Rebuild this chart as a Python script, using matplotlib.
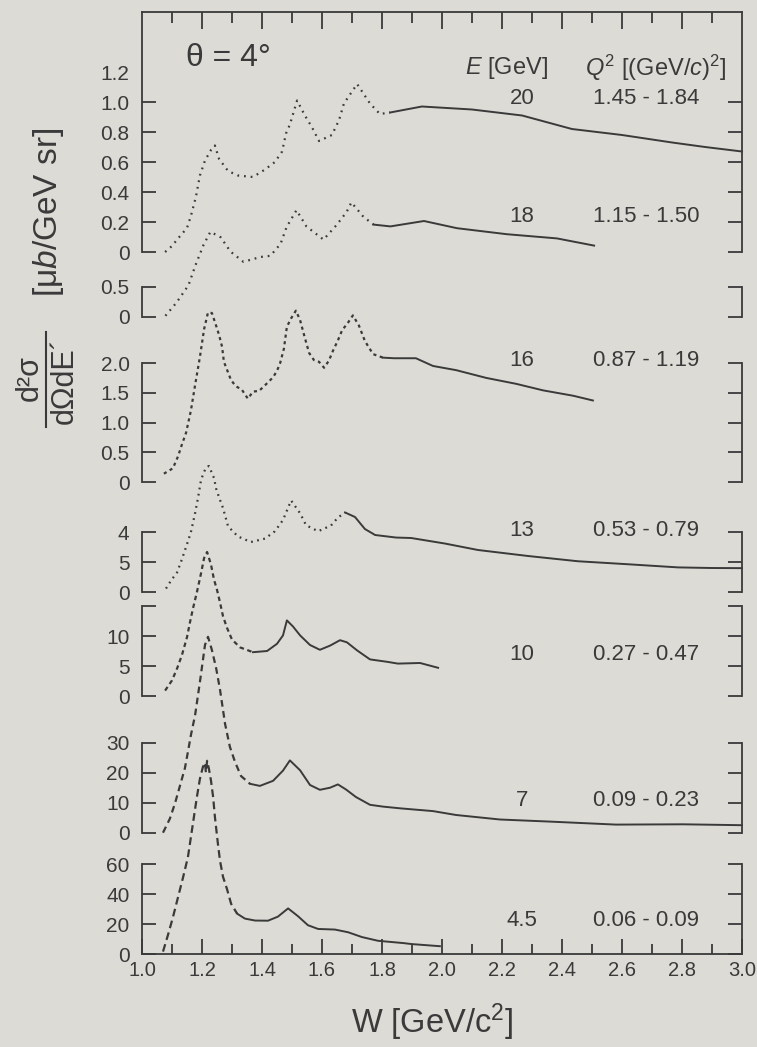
import numpy as np
import matplotlib.pyplot as plt
from matplotlib.lines import Line2D

plt.rcParams['font.family'] = ['Liberation Sans', 'DejaVu Sans']
plt.rcParams['mathtext.fontset'] = 'custom'
plt.rcParams['mathtext.rm'] = 'Liberation Sans'
plt.rcParams['mathtext.it'] = 'Liberation Sans:italic'

INK = '#3a3a3a'
PAPER = '#dcdbd6'

# ===== Data =====
W20 = [1.077, 1.10, 1.12, 1.15, 1.163, 1.18, 1.193, 1.21, 1.23, 1.243, 1.257, 1.287, 1.32, 1.37, 1.41,
       1.443, 1.467, 1.48, 1.493, 1.517, 1.543, 1.567, 1.59, 1.633, 1.657, 1.673, 1.717, 1.76, 1.793,
       1.827, 1.933, 2.10, 2.267, 2.433, 2.6, 2.767, 2.877, 3.0]
V20 = [0.0, 0.04, 0.09, 0.16, 0.24, 0.37, 0.51, 0.61, 0.68, 0.71, 0.62, 0.54, 0.51, 0.50, 0.55,
       0.60, 0.67, 0.79, 0.85, 1.01, 0.91, 0.83, 0.74, 0.78, 0.88, 0.99, 1.12, 0.99, 0.92,
       0.93, 0.97, 0.95, 0.91, 0.82, 0.78, 0.73, 0.70, 0.67]

W18 = [1.078, 1.115, 1.155, 1.178, 1.205, 1.228, 1.262, 1.295, 1.338, 1.395, 1.428, 1.462, 1.482,
       1.515, 1.548, 1.605, 1.648, 1.682, 1.698, 1.738, 1.772, 1.828, 1.94, 2.05, 2.216, 2.383, 2.507]
V18 = [0.02, 0.24, 0.53, 0.86, 1.20, 1.42, 1.33, 1.09, 0.92, 1.00, 1.02, 1.22, 1.50,
       1.78, 1.51, 1.29, 1.53, 1.75, 1.91, 1.67, 1.54, 1.51, 1.60, 1.48, 1.38, 1.31, 1.19]

W16 = [1.073, 1.103, 1.12, 1.133, 1.147, 1.163, 1.177, 1.193, 1.207, 1.22, 1.233, 1.243, 1.257, 1.267,
       1.273, 1.287, 1.297, 1.313, 1.333, 1.353, 1.37, 1.39, 1.413, 1.437, 1.45, 1.46, 1.473, 1.483,
       1.497, 1.513, 1.527, 1.543, 1.557, 1.573, 1.59, 1.607, 1.623, 1.637, 1.653, 1.667, 1.687, 1.703,
       1.723, 1.743, 1.77, 1.803, 1.84, 1.913, 1.97, 2.047, 2.147, 2.247, 2.337, 2.437, 2.503]
V16 = [0.14, 0.23, 0.43, 0.63, 0.83, 1.20, 1.63, 2.10, 2.57, 2.85, 2.84, 2.69, 2.47, 2.27,
       2.02, 1.84, 1.71, 1.61, 1.55, 1.40, 1.52, 1.53, 1.64, 1.76, 1.87, 1.99, 2.24, 2.61,
       2.75, 2.88, 2.72, 2.42, 2.17, 2.05, 2.02, 1.92, 2.04, 2.21, 2.38, 2.55, 2.68, 2.80,
       2.63, 2.37, 2.15, 2.09, 2.08, 2.08, 1.95, 1.88, 1.75, 1.65, 1.54, 1.45, 1.37]

W13 = [1.08, 1.097, 1.117, 1.133, 1.15, 1.163, 1.177, 1.187, 1.197, 1.213, 1.223, 1.24, 1.247, 1.257,
       1.27, 1.287, 1.32, 1.363, 1.41, 1.443, 1.47, 1.497, 1.527, 1.547, 1.587, 1.63, 1.653, 1.677,
       1.71, 1.743, 1.777, 1.847, 1.897, 2.01, 2.12, 2.287, 2.453, 2.62, 2.787, 2.897, 3.0]
V13 = [0.23, 0.77, 1.31, 2.18, 3.19, 3.99, 5.26, 6.3, 7.5, 8.3, 8.4, 7.6, 6.9, 6.3,
       5.6, 4.37, 3.7, 3.33, 3.56, 4.05, 4.8, 6.1, 5.25, 4.45, 4.05, 4.43, 4.96, 5.3,
       5.0, 4.2, 3.8, 3.63, 3.6, 3.23, 2.8, 2.4, 2.05, 1.85, 1.64, 1.6, 1.59]

W10 = [1.077, 1.10, 1.117, 1.133, 1.15, 1.16, 1.17, 1.183, 1.197, 1.207, 1.217, 1.23, 1.24, 1.25,
       1.26, 1.27, 1.283, 1.30, 1.327, 1.37, 1.417, 1.45, 1.47, 1.483, 1.503, 1.527, 1.56, 1.593,
       1.627, 1.66, 1.683, 1.717, 1.76, 1.817, 1.853, 1.927, 1.987]
V10 = [0.9, 2.6, 4.6, 6.8, 9.8, 12.3, 14.6, 17.3, 20.5, 23.0, 24.0, 21.9, 19.4, 17.7,
       15.6, 13.3, 11.4, 9.4, 8.1, 7.3, 7.5, 8.7, 10.1, 12.6, 11.6, 10.1, 8.5, 7.7,
       8.4, 9.3, 8.95, 7.6, 6.1, 5.7, 5.4, 5.5, 4.7]

W7 = [1.07, 1.093, 1.11, 1.127, 1.143, 1.153, 1.163, 1.177, 1.193, 1.21, 1.22, 1.233, 1.247, 1.26,
      1.277, 1.293, 1.31, 1.33, 1.36, 1.393, 1.437, 1.47, 1.493, 1.527, 1.56, 1.593, 1.627, 1.653,
      1.68, 1.713, 1.76, 1.803, 1.863, 1.97, 2.047, 2.193, 2.36, 2.58, 2.803, 3.0]
V7 = [0.1, 4.8, 9.9, 15.9, 21.6, 27.0, 32.6, 39.3, 50.3, 62.7, 65.4, 61.0, 55.0, 47.8,
      36.3, 28.7, 23.7, 19.0, 16.4, 15.7, 17.4, 20.8, 24.2, 20.9, 16.0, 14.4, 15.1, 16.2,
      14.5, 12.0, 9.4, 8.8, 8.2, 7.3, 6.0, 4.5, 3.8, 2.8, 2.9, 2.6]

W45 = [1.07, 1.087, 1.103, 1.12, 1.137, 1.153, 1.163, 1.173, 1.183, 1.193, 1.203, 1.21, 1.213, 1.217,
       1.223, 1.23, 1.237, 1.243, 1.253, 1.26, 1.27, 1.283, 1.297, 1.317, 1.343, 1.377, 1.42, 1.453,
       1.487, 1.52, 1.553, 1.587, 1.643, 1.687, 1.733, 1.787, 1.87, 1.9, 1.993]
V45 = [1.6, 13.0, 24.4, 37.8, 51.2, 64.5, 77.9, 91.3, 104.7, 116.7, 124.7, 127.5, 121.0, 128.8,
       123.5, 115.5, 104.8, 91.5, 73.5, 62.2, 51.5, 43.5, 33.5, 26.9, 23.6, 22.3, 22.2, 24.9,
       30.4, 25.2, 19.2, 16.7, 16.3, 14.5, 11.3, 8.8, 7.3, 6.6, 5.2]

energies = ['20', '18', '16', '13', '10', '7', '4.5']
q2_ranges = ['1.45 - 1.84', '1.15 - 1.50', '0.87 - 1.19', '0.53 - 0.79',
             '0.27 - 0.47', '0.09 - 0.23', '0.06 - 0.09']

ytick_vals = [[0, 0.2, 0.4, 0.6, 0.8, 1.0, 1.2], [0, 0.5], [0, 0.5, 1.0, 1.5, 2.0],
              [0, 2, 4], [0, 5, 10, 15], [0, 10, 20, 30], [0, 20, 40, 60]]
ytick_labels = [['0', '0.2', '0.4', '0.6', '0.8', '1.0', '1.2'], ['0', '0.5'],
                ['0', '0.5', '1.0', '1.5', '2.0'], ['0', '5', '4'], ['0', '5', '10', ''],
                ['0', '10', '20', '30'], ['0', '20', '40', '60']]
ytops = [1.6, 0.5, 2.0, 4, 15, 30, 60]

curves = [(W20, V20), (W18, V18), (W16, V16), (W13, V13), (W10, V10), (W7, V7), (W45, V45)]

# ===== Layout (pixels of the 757x1047 image) =====
FW, FH = 757, 1047
XL, XR = 142, 742
panel_px = [(252, 12), (317, 287), (482, 363), (592, 532), (696, 606), (833, 743), (954, 864)]
label_py = [98, 217, 361, 531, 655, 801, 920]
switch_w = [1.8, 1.75, 1.8, 1.66, 1.36, 1.34, 1.3]
dashes = [(0, (0.8, 2.2)), (0, (0.8, 2.2)), (0, (1.4, 1.6)), (0, (0.8, 2.0)),
          (0, (2.0, 1.6)), (0, (3.0, 2.0)), (0, (3.5, 2.0))]

fig = plt.figure(figsize=(FW / 100, FH / 100), dpi=100, facecolor=PAPER)


def fx(px):
    return px / FW


def fy(py):
    return 1 - py / FH


axes = []
for i, (pb, pt) in enumerate(panel_px):
    ax = fig.add_axes([fx(XL), fy(pb), fx(XR) - fx(XL), (pb - pt) / FH])
    ax.set_facecolor('none')
    ax.set_xlim(1.0, 3.0)
    ax.set_ylim(0, ytops[i])
    for s in ax.spines.values():
        s.set_color(INK)
        s.set_linewidth(1.3)
    ax.spines['top'].set_visible(i == 0)
    ax.spines['bottom'].set_visible(i == len(panel_px) - 1)
    ax.set_yticks(ytick_vals[i])
    ax.set_yticklabels(ytick_labels[i])
    ax.tick_params(axis='y', direction='in', left=True, right=True, length=10, width=1.3,
                   color=INK, labelcolor=INK, labelsize=15, pad=9)

    w, v = curves[i]
    w = np.array(w)
    v = np.array(v)
    k = np.searchsorted(w, switch_w[i])
    ax.plot(w[:k + 1], v[:k + 1], color=INK, lw=1.6, linestyle=dashes[i], clip_on=False)
    ax.plot(w[k:], v[k:], color=INK, lw=1.4, clip_on=False)
    axes.append(ax)

# top frame with ticks
top = axes[0]
top.xaxis.set_ticks_position('top')
top.set_xticks(np.arange(1.2, 2.81, 0.2))
top.set_xticks(np.arange(1.1, 2.91, 0.2), minor=True)
top.tick_params(axis='x', which='major', direction='in', length=12, width=1.3, color=INK,
                labeltop=False, labelbottom=False)
top.tick_params(axis='x', which='minor', direction='in', length=8, width=1.3, color=INK)
for t in top.yaxis.get_major_ticks()[-1:]:
    t.tick1line.set_visible(False)
    t.tick2line.set_visible(False)

for ax in axes[1:-1]:
    ax.set_xticks([])

bot = axes[-1]
bot.set_xticks(np.arange(1.0, 3.01, 0.2))
bot.set_xticklabels([f'{x:.1f}' for x in np.arange(1.0, 3.01, 0.2)])
bot.set_xticks(np.arange(1.1, 2.91, 0.2), minor=True)
bot.tick_params(axis='x', which='major', direction='in', length=11, width=1.3, color=INK,
                labelcolor=INK, labelsize=14.5, pad=5)
bot.tick_params(axis='x', which='minor', direction='in', length=7, width=1.3, color=INK)

# ===== Text =====
fig.text(fx(228), fy(58), 'θ = 4°', fontsize=23, color=INK, ha='center', va='center')
fig.text(fx(507), fy(68), '$E$ [GeV]', fontsize=17, color=INK, ha='center', va='center')
fig.text(fx(656), fy(68), '$Q^2$ [(GeV/$c$)$^2$]', fontsize=17, color=INK, ha='center', va='center')
for e, q, py in zip(energies, q2_ranges, label_py):
    fig.text(fx(522), fy(py), e, fontsize=16, color=INK, ha='center', va='center')
    fig.text(fx(646), fy(py), q, fontsize=16, color=INK, ha='center', va='center')

fig.text(fx(432), fy(1022), 'W [GeV/c$^2$]', fontsize=23.5, color=INK, ha='center', va='center')

# y label: fraction plus units
fig.text(fx(30), fy(378), 'd²σ', fontsize=22, color=INK, rotation=90, ha='center', va='center')
fig.text(fx(65), fy(381), 'dΩdE´', fontsize=22, color=INK, rotation=90, ha='center', va='center')
fig.add_artist(Line2D([fx(46), fx(46)], [fy(332), fy(427)], color=INK, lw=1.5))
fig.text(fx(48), fy(212), '[μ$b$/GeV sr]', fontsize=24, color=INK, rotation=90,
         ha='center', va='center')

fig.savefig('out.png', dpi=100, facecolor=PAPER)
